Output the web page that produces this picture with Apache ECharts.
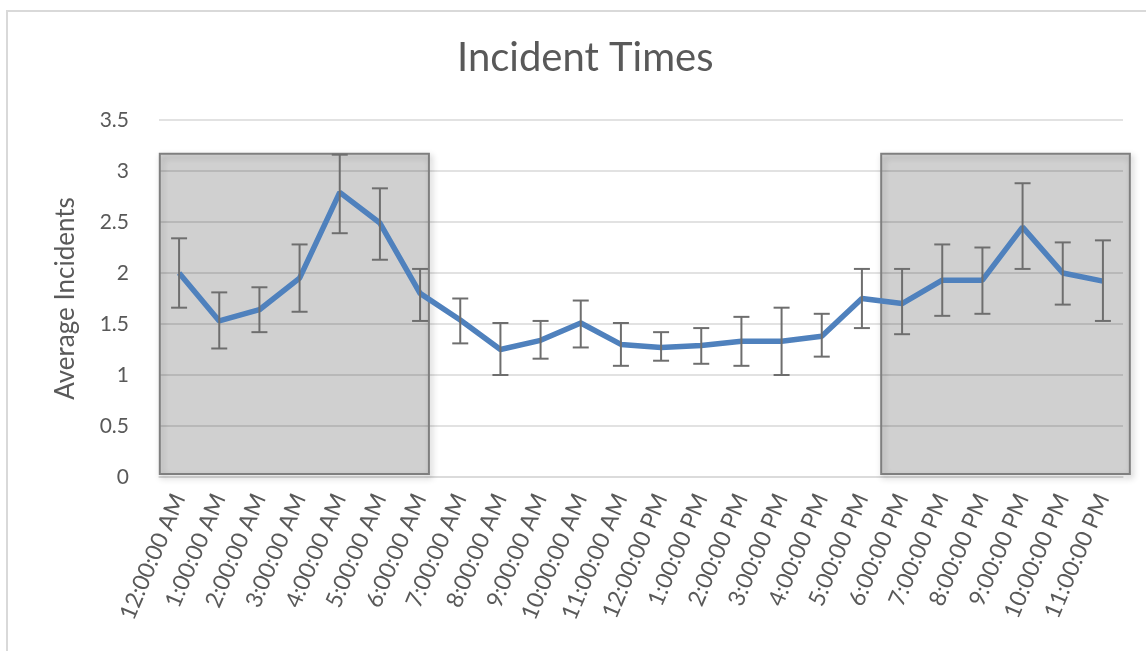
<!DOCTYPE html>
<html>
<head>
<meta charset="utf-8">
<script src="https://cdn.jsdelivr.net/npm/echarts@6/dist/echarts.min.js"></script>
<style>
html,body{margin:0;padding:0;background:#fff;}
#chart{width:1146px;height:651px;}
</style>
</head>
<body>
<div id="chart"></div>
<script>
var categories = ['12:00:00 AM','1:00:00 AM','2:00:00 AM','3:00:00 AM','4:00:00 AM','5:00:00 AM','6:00:00 AM','7:00:00 AM','8:00:00 AM','9:00:00 AM','10:00:00 AM','11:00:00 AM','12:00:00 PM','1:00:00 PM','2:00:00 PM','3:00:00 PM','4:00:00 PM','5:00:00 PM','6:00:00 PM','7:00:00 PM','8:00:00 PM','9:00:00 PM','10:00:00 PM','11:00:00 PM'];
var averages = [2.00,1.53,1.64,1.95,2.79,2.49,1.80,1.54,1.25,1.34,1.51,1.30,1.27,1.29,1.33,1.33,1.38,1.75,1.70,1.93,1.93,2.45,2.00,1.92];
var errLow  = [1.66,1.26,1.42,1.62,2.39,2.13,1.53,1.31,1.00,1.16,1.27,1.09,1.14,1.11,1.09,1.00,1.18,1.46,1.40,1.58,1.60,2.04,1.69,1.53];
var errHigh = [2.34,1.81,1.86,2.28,3.16,2.83,2.04,1.75,1.51,1.53,1.73,1.51,1.42,1.46,1.57,1.66,1.60,2.04,2.04,2.28,2.25,2.88,2.30,2.32];
var yTicks = [0,0.5,1,1.5,2,2.5,3,3.5];
// shaded night-time annotation boxes: [startCategory, endCategory, bottom, top] in axis units
var nightBoxes = [[-0.48, 6.22, 0.03, 3.17],[17.48, 23.67, 0.03, 3.17]];

var chart = echarts.init(document.getElementById('chart'));
var font = 'Lato, "Open Sans", sans-serif';
var txt = '#595959';

var errData = categories.map(function(c,i){ return [i, errLow[i], errHigh[i]]; });

function catX(api, pos){
  var c0 = api.coord([0,0])[0];
  var bw = api.size([1,0])[0];
  return c0 + pos*bw;
}

chart.setOption({
  animation:false,
  graphic:[{type:'rect', shape:{x:7,y:11,width:1150,height:660}, style:{fill:'none', stroke:'#d9d9d9', lineWidth:2}, z:-10}],
  title:{text:'Incident Times', left:452, top:33, textStyle:{fontFamily:font, fontSize:40, fontWeight:'normal', color:txt}},
  grid:{left:159, right:23, top:120, bottom:174},
  xAxis:{type:'category', data:categories, boundaryGap:true,
    axisLine:{lineStyle:{color:'#d9d9d9', width:1.5}}, axisTick:{show:false},
    axisLabel:{rotate:67, interval:0, margin:18, color:txt, fontFamily:font, fontSize:23}},
  yAxis:{type:'value', min:0, max:3.5, interval:0.5,
    name:'Average Incidents', nameLocation:'middle', nameGap:80, nameRotate:90,
    nameTextStyle:{color:txt, fontFamily:font, fontSize:26},
    axisLine:{show:false}, axisTick:{show:false},
    axisLabel:{color:txt, fontFamily:font, fontSize:21, margin:30, formatter:function(v){ return yTicks.indexOf(v)>=0 ? String(v) : ''; }},
    splitLine:{lineStyle:{color:'#d9d9d9', width:1.5}}},
  series:[
    {type:'custom', z:1, clip:false, data:nightBoxes, encode:{x:[0,1], y:[2,3]},
      renderItem:function(params, api){
        var x0 = catX(api, api.value(0)), x1 = catX(api, api.value(1));
        var yb = api.coord([0, api.value(2)])[1], yt = api.coord([0, api.value(3)])[1];
        return {type:'rect', shape:{x:x0, y:yt, width:x1-x0, height:yb-yt},
          style:{fill:'rgba(0,0,0,0.15)', stroke:'#7f7f7f', lineWidth:2, shadowBlur:6, shadowOffsetX:2, shadowOffsetY:3, shadowColor:'rgba(0,0,0,0.3)'}};
      }},
    {type:'line', z:3, data:averages, symbol:'none', lineStyle:{color:'#4f81bd', width:5.5}},
    {type:'custom', z:4, data:errData, encode:{x:0, y:[1,2]},
      renderItem:function(params, api){
        var i = api.value(0);
        var lo = api.coord([i, api.value(1)]), hi = api.coord([i, api.value(2)]);
        var hw = 8;
        var st = {stroke:'#6e6e6e', lineWidth:2};
        return {type:'group', children:[
          {type:'line', shape:{x1:lo[0], y1:lo[1], x2:hi[0], y2:hi[1]}, style:st},
          {type:'line', shape:{x1:lo[0]-hw, y1:lo[1], x2:lo[0]+hw, y2:lo[1]}, style:st},
          {type:'line', shape:{x1:hi[0]-hw, y1:hi[1], x2:hi[0]+hw, y2:hi[1]}, style:st}
        ]};
      }}
  ]
});
</script>
</body>
</html>
